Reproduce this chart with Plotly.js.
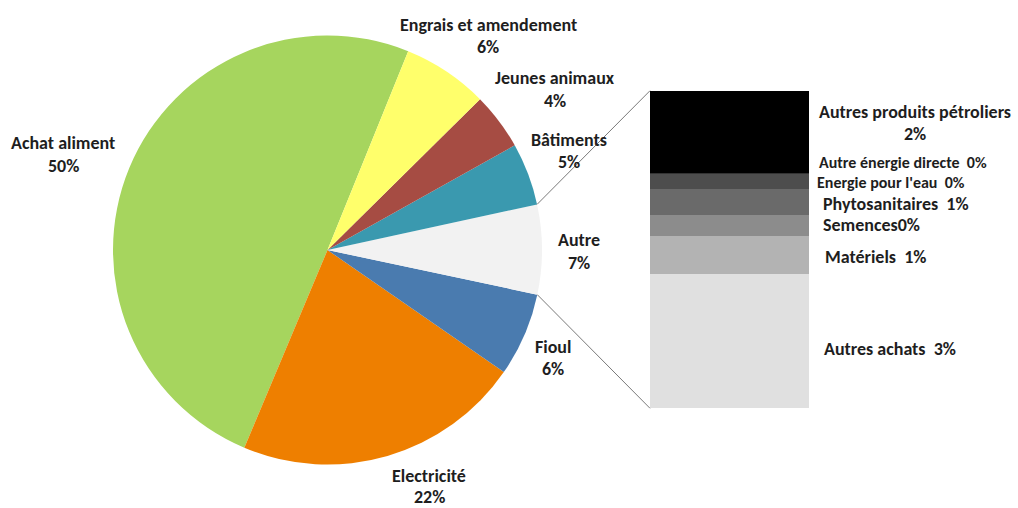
<!DOCTYPE html>
<html>
<head>
<meta charset="utf-8">
<script src="https://cdn.plot.ly/plotly-3.0.1.min.js"></script>
<style>html,body{margin:0;padding:0;background:#fff;}#chart{width:1018px;height:508px;}</style>
</head>
<body>
<div id="chart"></div>
<script>
// ---- Data ----
const pieLabels = ["Achat aliment", "Electricité", "Fioul", "Autre", "Bâtiments", "Jeunes animaux", "Engrais et amendement"];
const pieValues = [49.8, 21.7, 6.3, 6.75, 4.7, 4.3, 6.45];
const pieColors = ["#A6D55E", "#EE7F00", "#4A7BAF", "#F2F2F2", "#3A99AF", "#A64C43", "#FFFF6B"];

// Breakdown of "Autre", listed top to bottom
const subLabels = ["Autres produits pétroliers", "Autre énergie directe", "Energie pour l'eau", "Phytosanitaires", "Semences", "Matériels", "Autres achats"];
const subValues = [1.76, 0.01, 0.33, 0.54, 0.46, 0.81, 2.85];
const subColors = ["#000000", "#333333", "#4D4D4D", "#6A6A6A", "#8C8C8C", "#B3B3B3", "#E0E0E0"];

// ---- Layout geometry (pixels) ----
const W = 1018, H = 508;
const PIE_CX = 327.5, PIE_CY = 250, PIE_R = 214.5;
const START_ANGLE = 22.1; // first slice starts here (deg clockwise from 12 o'clock) and runs counterclockwise
const BAR_L = 650, BAR_R = 809, BAR_T = 90.7, BAR_B = 408.3;
const px = x => x / W;
const py = y => 1 - y / H;

const FONT = "Carlito, Calibri, Lato, sans-serif";
const FSIZE = 18;
const TXT = "#1e1e1e";

const total = pieValues.reduce((a, b) => a + b, 0);
const subTotal = subValues.reduce((a, b) => a + b, 0);

const traces = [];
traces.push({
  type: "pie",
  labels: pieLabels,
  values: pieValues,
  marker: {colors: pieColors, line: {width: 0}},
  sort: false,
  direction: "counterclockwise",
  // in counterclockwise mode plotly's rotation marks where the first slice ends
  rotation: START_ANGLE - 360 * pieValues[0] / total,
  textinfo: "none",
  hoverinfo: "label+percent",
  domain: {x: [px(PIE_CX - PIE_R), px(PIE_CX + PIE_R)], y: [py(PIE_CY + PIE_R), py(PIE_CY - PIE_R)]},
  showlegend: false
});

for (let i = subLabels.length - 1; i >= 0; i--) {
  traces.push({
    type: "bar",
    x: [0],
    y: [subValues[i]],
    name: subLabels[i],
    marker: {color: subColors[i], line: {width: 0}},
    xaxis: "x", yaxis: "y",
    showlegend: false,
    hoverinfo: "name+y"
  });
}

// connector lines from "Autre" slice edges to bar corners
const idxAutre = pieLabels.indexOf("Autre");
let before = 0;
for (let i = 0; i < idxAutre; i++) before += pieValues[i];
const aStart = (START_ANGLE - 360 * before / total) * Math.PI / 180;
const aEnd = (START_ANGLE - 360 * (before + pieValues[idxAutre]) / total) * Math.PI / 180;
const rim = a => [PIE_CX + PIE_R * Math.sin(a), PIE_CY - PIE_R * Math.cos(a)];
const pS = rim(aStart), pE = rim(aEnd);
const shapes = [
  {type: "line", xref: "paper", yref: "paper", x0: px(pE[0]), y0: py(pE[1]), x1: px(BAR_L), y1: py(BAR_T), line: {color: "#7a7a7a", width: 1}},
  {type: "line", xref: "paper", yref: "paper", x0: px(pS[0]), y0: py(pS[1]), x1: px(BAR_L), y1: py(BAR_B), line: {color: "#7a7a7a", width: 1}}
];

// ---- Labels ----
const pct = v => Math.round(v) + "%";
const annotations = [];
function ann(text, x, y, anchor, size) {
  annotations.push({text: text, x: px(x), y: py(y), xref: "paper", yref: "paper", showarrow: false,
    xanchor: anchor || "center", yanchor: "middle", borderpad: 0,
    font: {family: FONT, size: size || FSIZE, color: TXT, weight: "bold"}});
}
// pie label positions: [x, y line1, y line2]
const piePos = [[63, 143, 166], [429, 476, 497], [553, 347, 369], [579, 240, 263], [569, 140, 162], [555, 78, 101], [488, 25, 47]];
pieLabels.forEach((l, i) => {
  ann("<b>" + l + "</b>", piePos[i][0], piePos[i][1]);
  ann("<b>" + pct(pieValues[i]) + "</b>", piePos[i][0], piePos[i][2]);
});
// bar labels
ann("<b>" + subLabels[0] + "</b>", 915, 112);
ann("<b>" + pct(subValues[0]) + "</b>", 915, 134);
const subPos = [null, [818, 162, 16], [816, 182, 16], [822, 204], [822, 225], [824, 257], [823, 349]];
for (let i = 1; i < subLabels.length; i++) {
  const sep = subLabels[i] === "Semences" ? "" : "\u00a0\u00a0";
  ann("<b>" + subLabels[i] + sep + pct(subValues[i]) + "</b>", subPos[i][0], subPos[i][1], "left", subPos[i][2]);
}

const layout = {
  width: W, height: H,
  margin: {l: 0, r: 0, t: 0, b: 0},
  paper_bgcolor: "#ffffff", plot_bgcolor: "rgba(0,0,0,0)",
  barmode: "stack", bargap: 0,
  showlegend: false,
  xaxis: {domain: [px(BAR_L), px(BAR_R)], range: [-0.5, 0.5], visible: false, fixedrange: true},
  yaxis: {domain: [py(BAR_B), py(BAR_T)], range: [0, subTotal], visible: false, fixedrange: true},
  shapes: shapes,
  annotations: annotations
};

Plotly.newPlot("chart", traces, layout, {displayModeBar: false, staticPlot: true});
</script>
</body>
</html>
